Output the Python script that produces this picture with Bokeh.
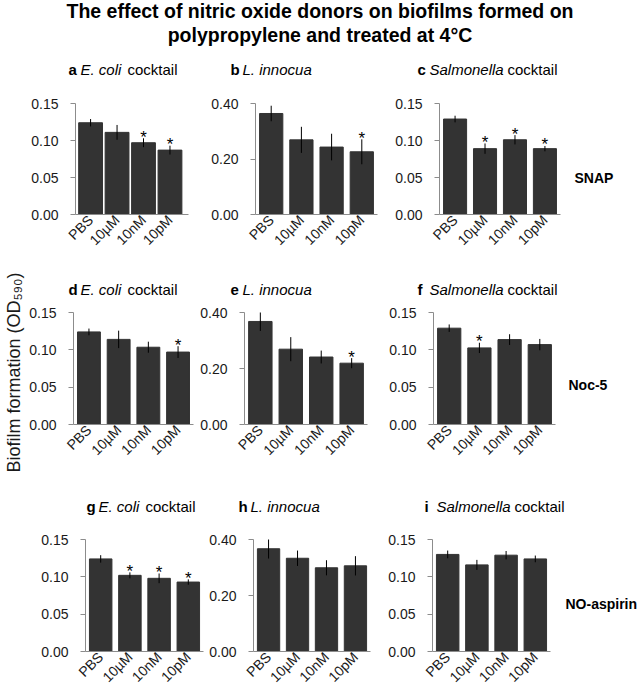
from math import pi
from bokeh.plotting import figure
from bokeh.layouts import column, row
from bokeh.models import Range1d, FixedTicker, NumeralTickFormatter, Label, ColumnDataSource
from bokeh.core.properties import value
from bokeh.embed import file_html
from bokeh.resources import INLINE

FONT = "Liberation Sans"

# ---------------- data ----------------
concentrations = ["PBS", "10µM", "10nM", "10pM"]
donors = ["SNAP", "Noc-5", "NO-aspirin"]
organisms = ["E. coli", "L. innocua", "Salmonella"]
organism_suffix = ["cocktail", "", "cocktail"]
panel_letters = ["a", "b", "c", "d", "e", "f", "g", "h", "i"]
ticks_small = [0.00, 0.05, 0.10, 0.15]
ticks_large = [0.00, 0.20, 0.40]

snap_ecoli = [0.124, 0.111, 0.097, 0.087]
snap_ecoli_err = [0.005, 0.010, 0.006, 0.006]
snap_ecoli_sig = [False, False, True, True]
snap_listeria = [0.364, 0.269, 0.243, 0.226]
snap_listeria_err = [0.028, 0.047, 0.048, 0.045]
snap_listeria_sig = [False, False, False, True]
snap_salmonella = [0.129, 0.089, 0.101, 0.089]
snap_salmonella_err = [0.0045, 0.007, 0.0063, 0.0036]
snap_salmonella_sig = [False, True, True, True]

noc5_ecoli = [0.124, 0.114, 0.1035, 0.097]
noc5_ecoli_err = [0.0045, 0.0117, 0.0074, 0.0079]
noc5_ecoli_sig = [False, False, False, True]
noc5_listeria = [0.368, 0.269, 0.241, 0.219]
noc5_listeria_err = [0.034, 0.043, 0.023, 0.018]
noc5_listeria_sig = [False, False, False, True]
noc5_salmonella = [0.129, 0.1026, 0.1137, 0.107]
noc5_salmonella_err = [0.005, 0.0069, 0.0072, 0.0076]
noc5_salmonella_sig = [False, True, False, False]

aspirin_ecoli = [0.124, 0.102, 0.098, 0.093]
aspirin_ecoli_err = [0.005, 0.004, 0.0065, 0.0036]
aspirin_ecoli_sig = [False, True, True, True]
aspirin_listeria = [0.367, 0.333, 0.299, 0.306]
aspirin_listeria_err = [0.035, 0.0275, 0.027, 0.0345]
aspirin_listeria_sig = [False, False, False, False]
aspirin_salmonella = [0.130, 0.116, 0.129, 0.124]
aspirin_salmonella_err = [0.0052, 0.0067, 0.0056, 0.0045]
aspirin_salmonella_sig = [False, False, False, False]

panel_data = [
    [(snap_ecoli, snap_ecoli_err, snap_ecoli_sig),
     (snap_listeria, snap_listeria_err, snap_listeria_sig),
     (snap_salmonella, snap_salmonella_err, snap_salmonella_sig)],
    [(noc5_ecoli, noc5_ecoli_err, noc5_ecoli_sig),
     (noc5_listeria, noc5_listeria_err, noc5_listeria_sig),
     (noc5_salmonella, noc5_salmonella_err, noc5_salmonella_sig)],
    [(aspirin_ecoli, aspirin_ecoli_err, aspirin_ecoli_sig),
     (aspirin_listeria, aspirin_listeria_err, aspirin_listeria_sig),
     (aspirin_salmonella, aspirin_salmonella_err, aspirin_salmonella_sig)],
]

# ---------------- layout (page pixels; page origin at 0,0) ----------------
LEFT = 26
RIGHT = 638
BOTTOM = 695
ROWS = [
    dict(top=95, bottom=268, ftop=103, fbot=214, bounds=[LEFT, 208, 392, 565],
         frames=[(75, 188), (255, 377), (439, 560)],
         title_x=[68, 230, 417], lab=(574, 37)),
    dict(top=304, bottom=486, ftop=312, fbot=424, bounds=[LEFT, 197, 386, 560],
         frames=[(71, 193), (244, 367), (433, 555)],
         title_x=[68, 230, 417], lab=(568, 40)),
    dict(top=531, bottom=BOTTOM, ftop=539, fbot=651, bounds=[LEFT, 206, 385, 555],
         frames=[(85, 203), (253, 370), (432, 550)],
         title_x=[86, 238, 424], lab=(565, 48)),
]
# strips holding the panel titles: (page left, page top, page bottom, title baseline)
STRIPS = [(0, 0, 95, 69), (LEFT, 268, 304, 289), (LEFT, 486, 531, 506)]
SPECIES_W = {"E. coli": 47, "L. innocua": 70, "Salmonella": 78}
BAR = "#333333"
AXIS = "#8c8c8c"
TXT = "#1a1a1a"


def blank(w, h):
    p = figure(width=w, height=h, x_range=Range1d(0, 1), y_range=Range1d(0, 1),
               output_backend="svg", toolbar_location=None,
               x_axis_type=None, y_axis_type=None, min_border=0)
    p.outline_line_color = None
    p.grid.visible = False
    return p


def lab(p, x, y, text, style="normal", size="15px", align="left", baseline="alphabetic",
        angle=0.0, color="black"):
    p.add_layout(Label(x=x, y=y, x_units="screen", y_units="screen", text=text,
                       text_font=FONT, text_font_style=style, text_font_size=size,
                       text_color=color, text_align=align, text_baseline=baseline,
                       angle=angle))


def make_panel(r, c):
    g = ROWS[r]
    vals, errs, sig = panel_data[r][c]
    big = c == 1
    ymax = 0.40 if big else 0.15
    yt = ticks_large if big else ticks_small
    fl, fr = g["frames"][c]
    bl, br = g["bounds"][c], g["bounds"][c + 1]
    if r == 0 and c == 0:
        xr, bw = (-0.57, 3.70), 0.9
    else:
        xr, bw = (-0.52, 3.52), 0.77
    p = figure(width=br - bl, height=g["bottom"] - g["top"],
               x_range=Range1d(*xr), y_range=Range1d(0, ymax),
               output_backend="svg", toolbar_location=None,
               min_border_left=fl - bl, min_border_right=br - fr,
               min_border_top=g["ftop"] - g["top"], min_border_bottom=g["bottom"] - g["fbot"])
    p.outline_line_color = None
    p.grid.visible = False

    xs = list(range(len(concentrations)))
    lo = [v - e for v, e in zip(vals, errs)]
    hi = [v + e for v, e in zip(vals, errs)]
    src = ColumnDataSource(dict(x=xs, top=vals, lo=lo, hi=hi))
    p.vbar(x="x", top="top", width=bw, source=src, fill_color=BAR, line_color=BAR)
    p.segment(x0="x", y0="lo", x1="x", y1="hi", source=src, line_color="black", line_width=1)
    sx = [i for i, s in enumerate(sig) if s]
    sy = [hi[i] for i in sx]
    if sx:
        p.text(x=sx, y=sy, text=["*"] * len(sx), text_align="center",
               text_baseline="alphabetic", y_offset=-1, text_font=value(FONT),
               text_font_size="17px", text_color="black")

    xa = p.xaxis[0]
    xa.ticker = FixedTicker(ticks=xs)
    xa.major_label_overrides = {i: c_ for i, c_ in enumerate(concentrations)}
    xa.major_label_orientation = pi / 4
    xa.major_tick_line_color = None
    xa.major_tick_out = 0
    xa.major_tick_in = 0
    xa.minor_tick_line_color = None
    xa.minor_tick_out = 0
    xa.axis_line_color = AXIS
    xa.major_label_standoff = 3
    xa.major_label_text_font = FONT
    xa.major_label_text_font_size = "14px"
    xa.major_label_text_color = TXT

    ya = p.yaxis[0]
    ya.ticker = FixedTicker(ticks=yt)
    ya.formatter = NumeralTickFormatter(format="0.00")
    ya.axis_line_color = AXIS
    ya.major_tick_line_color = AXIS
    ya.major_tick_out = 5
    ya.major_tick_in = 0
    ya.minor_tick_line_color = None
    ya.major_label_standoff = 12
    ya.major_label_text_font = FONT
    ya.major_label_text_font_size = "14px"
    ya.major_label_text_color = TXT
    return p


def make_strip(r):
    left, top, bottom, base = STRIPS[r]
    s = blank(RIGHT - left, bottom - top)
    y = bottom - base
    for c in range(3):
        x = ROWS[r]["title_x"][c] - left
        sp = organisms[c]
        lab(s, x, y, panel_letters[r * 3 + c], style="bold")
        lab(s, x + 12, y, sp, style="italic")
        if organism_suffix[c]:
            lab(s, x + 12 + SPECIES_W[sp], y, organism_suffix[c])
    if r == 0:
        cx = 319.5 - left
        lab(s, cx, bottom - 10.5, "The effect of nitric oxide donors on biofilms formed on",
            style="bold", size="19.5px", align="center")
        lab(s, cx, bottom - 34, "polypropylene and treated at 4°C",
            style="bold", size="19.5px", align="center")
    return s


def make_row_label(r):
    # row() aligns this figure's frame with the panels: y is measured up from the panel frame bottom
    g = ROWS[r]
    x0 = g["bounds"][3]
    s = blank(RIGHT - x0, g["bottom"] - g["top"])
    lx, ly = g["lab"]
    lab(s, lx - x0, ly, donors[r], style="bold", size="14px", baseline="middle")
    return s


top_strip = make_strip(0)
ylab_top = ROWS[0]["top"]
ylab_fig = blank(LEFT, BOTTOM - ylab_top)
ylab_fig.frame_align = False
lab(ylab_fig, 13, BOTTOM - 372, "Biofilm formation (OD₅₉₀)", size="18px",
    align="center", baseline="middle", angle=pi / 2, color=TXT)

body = []
for r in range(3):
    if r > 0:
        body.append(make_strip(r))
    body.append(row(*[make_panel(r, c) for c in range(3)], make_row_label(r)))

root = column(top_strip, row(ylab_fig, column(*body)))

open("out.html", "w").write(file_html(root, INLINE))
